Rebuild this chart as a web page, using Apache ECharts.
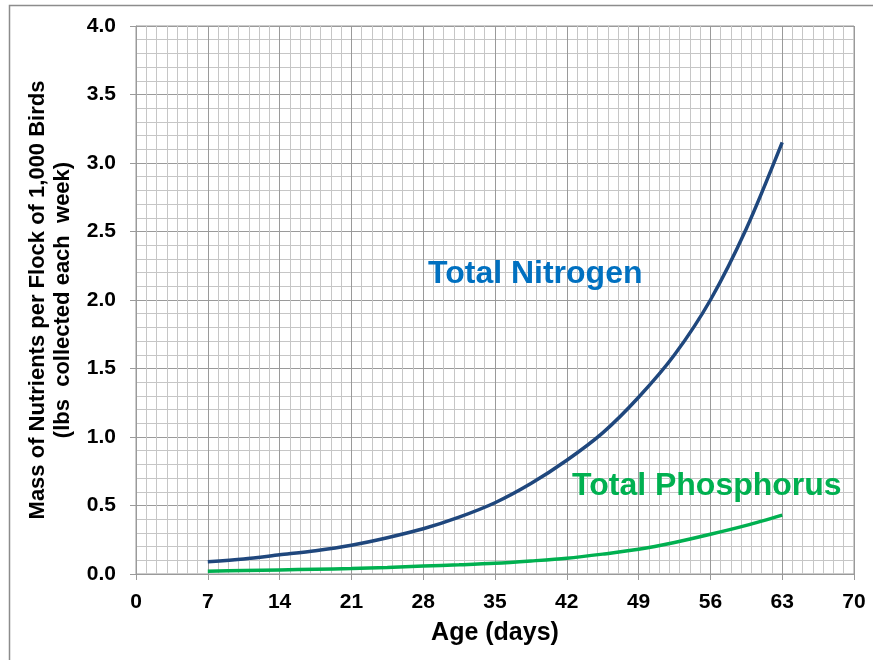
<!DOCTYPE html>
<html>
<head>
<meta charset="utf-8">
<title>Nutrients per Flock</title>
<script src="https://cdn.jsdelivr.net/npm/echarts@6/dist/echarts.min.js"></script>
<style>
  html, body { margin: 0; padding: 0; background: #fff; }
  #chart-container { width: 873px; height: 660px; }
</style>
</head>
<body>
<div id="chart-container"></div>
<script>
const ageDays = [7, 10.5, 14, 17.5, 21, 24.5, 28, 31.5, 35, 38.5, 42, 45.5, 49, 52.5, 56, 59.5, 63];
const totalNitrogen = [0.09, 0.11, 0.14, 0.17, 0.21, 0.265, 0.33, 0.415, 0.52, 0.66, 0.83, 1.03, 1.29, 1.6, 2.0, 2.52, 3.15];
const totalPhosphorus = [0.02, 0.025, 0.03, 0.035, 0.04, 0.048, 0.058, 0.067, 0.078, 0.095, 0.115, 0.145, 0.18, 0.23, 0.29, 0.355, 0.43];

const xTicks = [0, 7, 14, 21, 28, 35, 42, 49, 56, 63, 70];
const yTicks = [0, 0.5, 1, 1.5, 2, 2.5, 3, 3.5, 4];

const labelFont = {
  fontFamily: 'Liberation Sans, Arial, sans-serif',
  fontWeight: 'bold',
  color: '#000'
};

const toPairs = (values) => ageDays.map((d, i) => [d, values[i]]);

const myChart = echarts.init(document.getElementById('chart-container'), null, {
  renderer: 'canvas'
});

const option = {
  animation: false,
  backgroundColor: '#fff',
  grid: { left: 136, right: 19, top: 26, bottom: 86, show: true, borderColor: '#9a9a9a', borderWidth: 1 },
  xAxis: {
    type: 'value',
    min: xTicks[0],
    max: xTicks[xTicks.length - 1],
    interval: 7,
    name: 'Age (days)',
    nameLocation: 'middle',
    nameGap: 47,
    nameTextStyle: Object.assign({ fontSize: 25 }, labelFont),
    axisLine: { show: true, lineStyle: { color: '#9a9a9a', width: 1 } },
    axisTick: { show: true, length: 6, lineStyle: { color: '#9a9a9a' } },
    axisLabel: Object.assign({ fontSize: 21, margin: 18 }, labelFont),
    splitLine: { show: true, lineStyle: { color: '#9a9a9a', width: 1 } },
    minorTick: { show: false, splitNumber: 7 },
    minorSplitLine: { show: true, lineStyle: { color: '#c6c6c6', width: 1 } }
  },
  yAxis: {
    type: 'value',
    min: yTicks[0],
    max: yTicks[yTicks.length - 1],
    interval: 0.5,
    name: 'Mass of Nutrients per Flock of 1,000 Birds\n(lbs  collected each  week)',
    nameLocation: 'middle',
    nameRotate: 90,
    nameGap: 49,
    nameTextStyle: Object.assign({ fontSize: 22, lineHeight: 25 }, labelFont),
    axisLine: { show: true, lineStyle: { color: '#9a9a9a', width: 1 } },
    axisTick: { show: true, length: 6, lineStyle: { color: '#9a9a9a' } },
    axisLabel: Object.assign({
      fontSize: 21,
      margin: 20,
      formatter: (v) => v.toFixed(1)
    }, labelFont),
    splitLine: { show: true, lineStyle: { color: '#9a9a9a', width: 1 } },
    minorTick: { show: false, splitNumber: 5 },
    minorSplitLine: { show: true, lineStyle: { color: '#c6c6c6', width: 1 } }
  },
  series: [
    {
      name: 'Total Nitrogen',
      type: 'line',
      smooth: 0.3,
      showSymbol: false,
      data: toPairs(totalNitrogen),
      lineStyle: { color: '#1f477d', width: 3.5 },
      z: 3
    },
    {
      name: 'Total Phosphorus',
      type: 'line',
      smooth: 0.3,
      showSymbol: false,
      data: toPairs(totalPhosphorus),
      lineStyle: { color: '#00b050', width: 3.5 },
      z: 3
    }
  ],
  graphic: [
    // outer chart frame, only top and left edges are inside the picture
    {
      type: 'rect',
      shape: { x: 9.5, y: 5.5, width: 1000, height: 1000 },
      style: { fill: null, stroke: '#8c8c8c', lineWidth: 1.5 },
      silent: true
    },
    {
      type: 'text',
      x: 428,
      y: 274,
      style: {
        text: 'Total Nitrogen',
        fill: '#0070c0',
        font: 'bold 32px "Liberation Sans", Arial, sans-serif',
        textVerticalAlign: 'middle'
      },
      z: 10
    },
    {
      type: 'text',
      x: 572,
      y: 486,
      style: {
        text: 'Total Phosphorus',
        fill: '#00b050',
        font: 'bold 32px "Liberation Sans", Arial, sans-serif',
        textVerticalAlign: 'middle'
      },
      z: 10
    }
  ]
};

myChart.setOption(option);
</script>
</body>
</html>
